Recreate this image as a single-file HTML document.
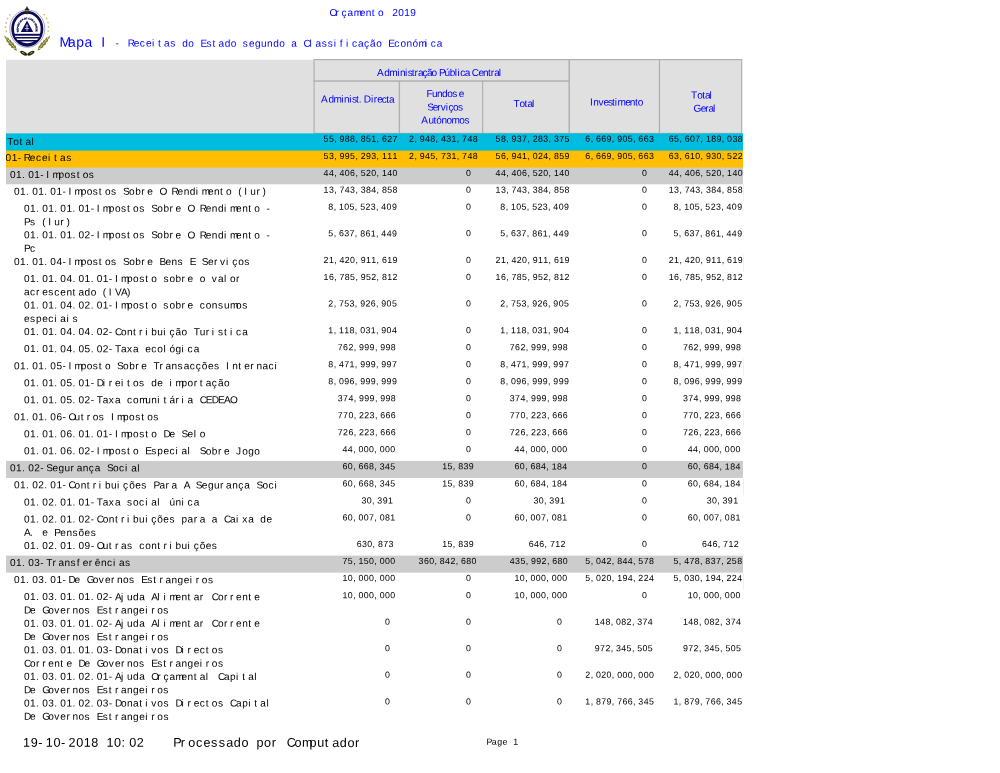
<!DOCTYPE html>
<html lang="pt">
<head>
<meta charset="utf-8">
<title>Orçamento 2019 - Mapa I - Receitas do Estado segundo a Classificação Económica</title>
<style>
html,body{margin:0;padding:0;background:#fff;}
body{width:1000px;height:773px;overflow:hidden;position:relative;font-family:"Liberation Sans",sans-serif;}
.page{position:absolute;left:0;top:0;width:1000px;height:773px;overflow:hidden;background:#fff;}
svg.sheet{position:absolute;left:0;top:0;display:block;}
svg.sheet text{font-family:"Liberation Sans",sans-serif;white-space:pre;text-rendering:geometricPrecision;}
</style>
</head>
<body>
<div class="page">
<svg class="sheet" width="1000" height="773" viewBox="0 0 1000 773">
<g class="logo">
<g class="coat-of-arms">
<defs>
<path id="arcTxt" d="M 18.9 32.2 A 8.6 10 0 1 1 35.3 32.2"/>
<clipPath id="discClip"><ellipse cx="27.3" cy="28.8" rx="14" ry="15.8"/></clipPath>
</defs>
<ellipse cx="27.3" cy="28.6" rx="17.5" ry="18.7" fill="none" stroke="#7f83b4" stroke-width="0.75"/>
<ellipse cx="27.3" cy="28.8" rx="14.7" ry="16.5" fill="#fff" stroke="#0c0b55" stroke-width="2.7"/>
<g clip-path="url(#discClip)">
<rect x="10" y="33.8" width="35" height="14" fill="#0c0b55"/>
<path d="M 12 36.4 H 43 M 12 39.3 H 43" stroke="#fff" stroke-width="1.4" fill="none"/>
<path d="M 20.6 41.6 H 34 Q 27.3 45 20.6 41.6 Z" fill="#fff"/>
</g>
<path d="M 27 20.6 L 33.2 31.9 L 20.8 31.9 Z" fill="#0c0b55"/>
<path d="M 27 24.2 V 31.2 M 24.8 28.6 H 29.2 M 25.8 26 H 28.2" stroke="#eeeef8" stroke-width="0.75" fill="none"/>
<text font-size="2.45" fill="#15145a" stroke="#15145a" stroke-width="0.22" letter-spacing="-0.06" style="font-family:'Liberation Sans',sans-serif;font-weight:bold"><textPath href="#arcTxt" startOffset="0.3">REPÚBLICA DE CABO VERDE</textPath></text>
<path d="M 27 5.9 L 28.1 8.3 L 29.5 9.4 L 28.5 10.4 L 28.1 13.2 L 27 14.7 L 25.9 13.2 L 25.5 10.4 L 24.5 9.4 L 25.9 8.3 Z" fill="#2b2a12"/>
<circle cx="27" cy="10.8" r="0.75" fill="#b8a540"/>
<g fill="#cdbc5a">
<circle cx="9.7" cy="14.8" r="0.85"/><circle cx="7.5" cy="18.6" r="0.85"/><circle cx="6.2" cy="22.9" r="0.85"/><circle cx="5.6" cy="27.2" r="0.85"/><circle cx="6.2" cy="31.4" r="0.85"/>
<circle cx="44.3" cy="14.6" r="0.85"/><circle cx="46.6" cy="18.4" r="0.85"/><circle cx="48.1" cy="22.6" r="0.85"/><circle cx="48.5" cy="26.8" r="0.85"/><circle cx="48.1" cy="31.1" r="0.85"/>
</g>
<g class="fronds">
<path d="M 4.6 35.4 L 7.4 38 L 7.8 37 L 9.8 40.4 L 10.4 39.4 L 12.2 43 L 13 42.2 L 14.6 45.8 L 15.4 45.2 L 17 50.8 L 14 49.8 L 14.2 48.6 L 11 47.4 L 11.2 46.2 L 8.4 44.4 L 8.8 43.2 L 6.2 41 L 6.6 40 L 4.6 37.6 Z" fill="#7d7628"/>
<path d="M 5.4 36.6 L 16 49.8" stroke="#f3ecb4" stroke-width="1" stroke-dasharray="1.3 0.8" fill="none"/>
<path d="M 49.8 35.4 L 47 38 L 46.6 37 L 44.6 40.4 L 44 39.4 L 42.2 43 L 41.4 42.2 L 39.8 45.8 L 39 45.2 L 37.6 50.4 L 40.4 49.6 L 40.2 48.4 L 43.4 47.2 L 43.2 46 L 46 44.2 L 45.6 43 L 48.2 40.8 L 47.8 39.8 L 49.8 37.4 Z" fill="#7d7628"/>
<path d="M 49 36.6 L 38.6 49.4" stroke="#f3ecb4" stroke-width="1" stroke-dasharray="1.3 0.8" fill="none"/>
</g>
<g class="links">
<ellipse cx="23.7" cy="53.2" rx="3.9" ry="1.7" transform="rotate(28 23.7 53.2)" fill="#2a280a"/>
<ellipse cx="30.9" cy="53.2" rx="3.9" ry="1.7" transform="rotate(-28 30.9 53.2)" fill="#2a280a"/>
<ellipse cx="23.3" cy="52.9" rx="1.5" ry="0.5" transform="rotate(28 23.3 52.9)" fill="#c9bf74"/>
<ellipse cx="31.3" cy="52.9" rx="1.5" ry="0.5" transform="rotate(-28 31.3 52.9)" fill="#c9bf74"/>
</g>
</g>

</g>
<g class="titles">
<text x="329.4 335.46 341.52 347.58 353.64 359.7 365.76 371.82 377.88 383.94 392.2 398.26 404.32 410.38" y="16" font-size="10.1" fill="#0000ff" transform="rotate(0.03 329.4 16)">Orçamento 2019</text>
<text x="59.6 67.93 76.26 84.59 92.92 101.25" y="46.7" font-size="13.89" fill="#0000ff" transform="rotate(0.03 59.6 46.7)">Mapa I</text>
<text x="115.6 121.66 127.72 133.78 139.84 145.9 151.96 158.02 164.08 170.14 176.2 182.26 188.32 194.38 200.44 206.5 212.56 218.62 224.68 230.74 236.8 242.86 248.92 254.98 261.04 267.1 273.16 279.22 285.28 291.34 297.4 303.46 309.52 315.58 321.64 327.7 333.76 339.82 345.88 351.94 358 364.06 370.12 376.18 382.24 388.3 394.36 400.42 406.48 412.54 418.6 424.66 430.72 436.78" y="46.6" font-size="10.1" fill="#0000ff" transform="rotate(0.03 115.6 46.6)">- Receitas do Estado segundo a Classificação Económica</text>
</g>
<g class="header-cells">
<rect x="6" y="59.8" width="308" height="74.4" fill="#e0e0e0"/>
<rect x="314.1" y="59.6" width="255.2" height="21.55" fill="#e0e0e0" stroke="#b0b0b0" stroke-width="1.2"/>
<rect x="314.1" y="81.15" width="85.35" height="52.25" fill="#e0e0e0" stroke="#b0b0b0" stroke-width="1.2"/>
<rect x="399.45" y="81.15" width="83.15" height="52.25" fill="#e0e0e0" stroke="#b0b0b0" stroke-width="1.2"/>
<rect x="482.6" y="81.15" width="86.7" height="52.25" fill="#e0e0e0" stroke="#b0b0b0" stroke-width="1.2"/>
<rect x="569.3" y="59.6" width="90.2" height="73.8" fill="#e0e0e0" stroke="#b0b0b0" stroke-width="1.2"/>
<rect x="659.5" y="59.6" width="82.2" height="73.8" fill="#e0e0e0" stroke="#b0b0b0" stroke-width="1.2"/>
</g>
<g class="colheads">
<text x="377 384.29 389.34 397.2 400.01 405.06 407.86 411.79 414.6 417.96 422.45 426.93 431.41 436.46 438.99 444.6 449.65 454.7 457.51 460.32 464.8 469.28 471.81 478.54 483.03 488.08 490.88 494.24 498.73" y="76" font-size="10.1" fill="#0000ff" transform="rotate(0.03 377 76)">Administração Pública Central</text>
<text x="321.1 328.39 333.44 341.3 344.11 349.16 351.96 355.89 358.7 361.22 363.75 371.04 373.85 377.21 381.7 386.18 388.98" y="102.6" font-size="10.1" fill="#0000ff" transform="rotate(0.03 321.1 102.6)">Administ. Directa</text>
<text x="426.4 432.02 437.07 442.12 447.17 452.22 456.15 458.67" y="97" font-size="10.1" fill="#0000ff" transform="rotate(0.03 426.4 97)">Fundos e</text>
<text x="427.2 432.82 437.3 440.66 445.71 448.52 453 458.05" y="110.5" font-size="10.1" fill="#0000ff" transform="rotate(0.03 427.2 110.5)">Serviços</text>
<text x="421.2 428.49 433.54 436.35 441.4 446.45 451.5 459.36 464.41" y="123.5" font-size="10.1" fill="#0000ff" transform="rotate(0.03 421.2 123.5)">Autónomos</text>
<text x="513.4 519.57 524.62 527.43 531.91" y="107" font-size="10.1" fill="#0000ff" transform="rotate(0.03 513.4 107)">Total</text>
<text x="590 593.36 598.41 603.46 607.95 611.88 614.68 617.49 625.35 629.83 634.88 637.68" y="105.5" font-size="10.1" fill="#0000ff" transform="rotate(0.03 590 105.5)">Investimento</text>
<text x="691 697.17 702.22 705.03 709.51" y="98.5" font-size="10.1" fill="#0000ff" transform="rotate(0.03 691 98.5)">Total</text>
<text x="693.4 700.69 705.18 708.54 713.02" y="111.8" font-size="10.1" fill="#0000ff" transform="rotate(0.03 693.4 111.8)">Geral</text>
</g>
<g class="bands">
<rect x="6" y="133.4" width="737" height="18" fill="#00bddf"/>
<rect x="6" y="150.6" width="737" height="17.75" fill="#ffbf00"/>
<rect x="6" y="167.55" width="737" height="16.75" fill="#cccccc"/>
<rect x="743.3" y="184.3" width="0.6" height="17.03" fill="#e6e6e6"/>
<rect x="743.3" y="254.49" width="0.6" height="17.03" fill="#e6e6e6"/>
<rect x="743.3" y="358.74" width="0.6" height="17.03" fill="#e6e6e6"/>
<rect x="743.3" y="409.83" width="0.6" height="17.03" fill="#e6e6e6"/>
<rect x="6" y="460.92" width="737" height="17.03" fill="#cccccc"/>
<rect x="743.3" y="477.95" width="0.6" height="17.03" fill="#e6e6e6"/>
<rect x="6" y="555.62" width="737" height="17.03" fill="#cccccc"/>
<rect x="743.3" y="572.65" width="0.6" height="17.03" fill="#e6e6e6"/>
</g>
<g class="rows">
<text x="7.3 13.36 19.42 25.48 31.54" y="145" font-size="10.1" transform="rotate(0.03 7.3 145)">Total</text>
<text x="323.61 328.91 334.21 339.51 344.81 350.11 355.41 360.71 366.01 371.31 376.61 381.91 387.21 392.51" y="141.85" font-size="8.84" transform="rotate(0.03 323.61 141.85)">55,988,851,627</text>
<text x="409.14 414.44 419.74 425.04 430.34 435.64 440.94 446.24 451.54 456.84 462.14 467.44 472.74" y="141.85" font-size="8.84" transform="rotate(0.03 409.14 141.85)">2,948,431,748</text>
<text x="495.61 500.91 506.21 511.51 516.81 522.11 527.41 532.71 538.01 543.31 548.61 553.91 559.21 564.51" y="141.85" font-size="8.84" transform="rotate(0.03 495.61 141.85)">58,937,283,375</text>
<text x="585.34 590.64 595.94 601.24 606.54 611.84 617.14 622.44 627.74 633.04 638.34 643.64 648.94" y="141.85" font-size="8.84" transform="rotate(0.03 585.34 141.85)">6,669,905,663</text>
<text x="668.81 674.11 679.41 684.71 690.01 695.31 700.61 705.91 711.21 716.51 721.81 727.11 732.41 737.71" y="141.85" font-size="8.84" transform="rotate(0.03 668.81 141.85)">65,607,189,038</text>
<text x="5.6 11.66 17.72 23.78 29.84 35.9 41.96 48.02 54.08 60.14 66.2" y="161" font-size="10.1" transform="rotate(0.03 5.6 161)">01-Receitas</text>
<text x="323.61 328.91 334.21 339.51 344.81 350.11 355.41 360.71 366.01 371.31 376.61 381.91 387.21 392.51" y="159.05" font-size="8.84" transform="rotate(0.03 323.61 159.05)">53,995,293,111</text>
<text x="409.14 414.44 419.74 425.04 430.34 435.64 440.94 446.24 451.54 456.84 462.14 467.44 472.74" y="159.05" font-size="8.84" transform="rotate(0.03 409.14 159.05)">2,945,731,748</text>
<text x="495.61 500.91 506.21 511.51 516.81 522.11 527.41 532.71 538.01 543.31 548.61 553.91 559.21 564.51" y="159.05" font-size="8.84" transform="rotate(0.03 495.61 159.05)">56,941,024,859</text>
<text x="585.34 590.64 595.94 601.24 606.54 611.84 617.14 622.44 627.74 633.04 638.34 643.64 648.94" y="159.05" font-size="8.84" transform="rotate(0.03 585.34 159.05)">6,669,905,663</text>
<text x="668.81 674.11 679.41 684.71 690.01 695.31 700.61 705.91 711.21 716.51 721.81 727.11 732.41 737.71" y="159.05" font-size="8.84" transform="rotate(0.03 668.81 159.05)">63,610,930,522</text>
<text x="10 16.06 22.12 28.18 34.24 40.3 46.36 52.42 58.48 64.54 70.6 76.66 82.72 88.78" y="177.95" font-size="10.1" transform="rotate(0.03 10 177.95)">01.01-Impostos</text>
<text x="323.61 328.91 334.21 339.51 344.81 350.11 355.41 360.71 366.01 371.31 376.61 381.91 387.21 392.51" y="176" font-size="8.84" transform="rotate(0.03 323.61 176)">44,406,520,140</text>
<text x="465.9" y="176" font-size="8.84" transform="rotate(0.03 465.9 176)">0</text>
<text x="495.61 500.91 506.21 511.51 516.81 522.11 527.41 532.71 538.01 543.31 548.61 553.91 559.21 564.51" y="176" font-size="8.84" transform="rotate(0.03 495.61 176)">44,406,520,140</text>
<text x="642.1" y="176" font-size="8.84" transform="rotate(0.03 642.1 176)">0</text>
<text x="668.81 674.11 679.41 684.71 690.01 695.31 700.61 705.91 711.21 716.51 721.81 727.11 732.41 737.71" y="176" font-size="8.84" transform="rotate(0.03 668.81 176)">44,406,520,140</text>
<text x="14 20.06 26.12 32.18 38.24 44.3 50.36 56.42 62.48 68.54 74.6 80.66 86.72 92.78 98.84 104.9 110.96 117.02 123.08 129.14 135.2 141.26 147.32 153.38 159.44 165.5 171.56 177.62 183.68 189.74 195.8 201.86 207.92 213.98 220.04 226.1 232.16 238.22 244.28 250.34 256.4 262.46" y="194.7" font-size="10.1" transform="rotate(0.03 14 194.7)">01.01.01-Impostos Sobre O Rendimento (Iur)</text>
<text x="323.61 328.91 334.21 339.51 344.81 350.11 355.41 360.71 366.01 371.31 376.61 381.91 387.21 392.51" y="192.75" font-size="8.84" transform="rotate(0.03 323.61 192.75)">13,743,384,858</text>
<text x="465.9" y="192.75" font-size="8.84" transform="rotate(0.03 465.9 192.75)">0</text>
<text x="495.61 500.91 506.21 511.51 516.81 522.11 527.41 532.71 538.01 543.31 548.61 553.91 559.21 564.51" y="192.75" font-size="8.84" transform="rotate(0.03 495.61 192.75)">13,743,384,858</text>
<text x="642.1" y="192.75" font-size="8.84" transform="rotate(0.03 642.1 192.75)">0</text>
<text x="668.81 674.11 679.41 684.71 690.01 695.31 700.61 705.91 711.21 716.51 721.81 727.11 732.41 737.71" y="192.75" font-size="8.84" transform="rotate(0.03 668.81 192.75)">13,743,384,858</text>
<text x="24 30.06 36.12 42.18 48.24 54.3 60.36 66.42 72.48 78.54 84.6 90.66 96.72 102.78 108.84 114.9 120.96 127.02 133.08 139.14 145.2 151.26 157.32 163.38 169.44 175.5 181.56 187.62 193.68 199.74 205.8 211.86 217.92 223.98 230.04 236.1 242.16 248.22 254.28 260.34 266.4" y="211.73" font-size="10.1" transform="rotate(0.03 24 211.73)">01.01.01.01-Impostos Sobre O Rendimento -</text>
<text x="24 30.06 36.12 42.18 48.24 54.3 60.36 66.42" y="225.18" font-size="10.1" transform="rotate(0.03 24 225.18)">Ps (Iur)</text>
<text x="328.34 333.64 338.94 344.24 349.54 354.84 360.14 365.44 370.74 376.04 381.34 386.64 391.94" y="209.78" font-size="8.84" transform="rotate(0.03 328.34 209.78)">8,105,523,409</text>
<text x="465.9" y="209.78" font-size="8.84" transform="rotate(0.03 465.9 209.78)">0</text>
<text x="500.34 505.64 510.94 516.24 521.54 526.84 532.14 537.44 542.74 548.04 553.34 558.64 563.94" y="209.78" font-size="8.84" transform="rotate(0.03 500.34 209.78)">8,105,523,409</text>
<text x="642.1" y="209.78" font-size="8.84" transform="rotate(0.03 642.1 209.78)">0</text>
<text x="673.54 678.84 684.14 689.44 694.74 700.04 705.34 710.64 715.94 721.24 726.54 731.84 737.14" y="209.78" font-size="8.84" transform="rotate(0.03 673.54 209.78)">8,105,523,409</text>
<text x="24 30.06 36.12 42.18 48.24 54.3 60.36 66.42 72.48 78.54 84.6 90.66 96.72 102.78 108.84 114.9 120.96 127.02 133.08 139.14 145.2 151.26 157.32 163.38 169.44 175.5 181.56 187.62 193.68 199.74 205.8 211.86 217.92 223.98 230.04 236.1 242.16 248.22 254.28 260.34 266.4" y="238.31" font-size="10.1" transform="rotate(0.03 24 238.31)">01.01.01.02-Impostos Sobre O Rendimento -</text>
<text x="24 30.06" y="251.76" font-size="10.1" transform="rotate(0.03 24 251.76)">Pc</text>
<text x="328.34 333.64 338.94 344.24 349.54 354.84 360.14 365.44 370.74 376.04 381.34 386.64 391.94" y="236.36" font-size="8.84" transform="rotate(0.03 328.34 236.36)">5,637,861,449</text>
<text x="465.9" y="236.36" font-size="8.84" transform="rotate(0.03 465.9 236.36)">0</text>
<text x="500.34 505.64 510.94 516.24 521.54 526.84 532.14 537.44 542.74 548.04 553.34 558.64 563.94" y="236.36" font-size="8.84" transform="rotate(0.03 500.34 236.36)">5,637,861,449</text>
<text x="642.1" y="236.36" font-size="8.84" transform="rotate(0.03 642.1 236.36)">0</text>
<text x="673.54 678.84 684.14 689.44 694.74 700.04 705.34 710.64 715.94 721.24 726.54 731.84 737.14" y="236.36" font-size="8.84" transform="rotate(0.03 673.54 236.36)">5,637,861,449</text>
<text x="14 20.06 26.12 32.18 38.24 44.3 50.36 56.42 62.48 68.54 74.6 80.66 86.72 92.78 98.84 104.9 110.96 117.02 123.08 129.14 135.2 141.26 147.32 153.38 159.44 165.5 171.56 177.62 183.68 189.74 195.8 201.86 207.92 213.98 220.04 226.1 232.16 238.22 244.28" y="264.89" font-size="10.1" transform="rotate(0.03 14 264.89)">01.01.04-Impostos Sobre Bens E Serviços</text>
<text x="323.61 328.91 334.21 339.51 344.81 350.11 355.41 360.71 366.01 371.31 376.61 381.91 387.21 392.51" y="262.94" font-size="8.84" transform="rotate(0.03 323.61 262.94)">21,420,911,619</text>
<text x="465.9" y="262.94" font-size="8.84" transform="rotate(0.03 465.9 262.94)">0</text>
<text x="495.61 500.91 506.21 511.51 516.81 522.11 527.41 532.71 538.01 543.31 548.61 553.91 559.21 564.51" y="262.94" font-size="8.84" transform="rotate(0.03 495.61 262.94)">21,420,911,619</text>
<text x="642.1" y="262.94" font-size="8.84" transform="rotate(0.03 642.1 262.94)">0</text>
<text x="668.81 674.11 679.41 684.71 690.01 695.31 700.61 705.91 711.21 716.51 721.81 727.11 732.41 737.71" y="262.94" font-size="8.84" transform="rotate(0.03 668.81 262.94)">21,420,911,619</text>
<text x="24 30.06 36.12 42.18 48.24 54.3 60.36 66.42 72.48 78.54 84.6 90.66 96.72 102.78 108.84 114.9 120.96 127.02 133.08 139.14 145.2 151.26 157.32 163.38 169.44 175.5 181.56 187.62 193.68 199.74 205.8 211.86 217.92 223.98 230.04 236.1" y="281.92" font-size="10.1" transform="rotate(0.03 24 281.92)">01.01.04.01.01-Imposto sobre o valor</text>
<text x="24 30.06 36.12 42.18 48.24 54.3 60.36 66.42 72.48 78.54 84.6 90.66 96.72 102.78 108.84 114.9 120.96 127.02" y="295.37" font-size="10.1" transform="rotate(0.03 24 295.37)">acrescentado (IVA)</text>
<text x="323.61 328.91 334.21 339.51 344.81 350.11 355.41 360.71 366.01 371.31 376.61 381.91 387.21 392.51" y="279.97" font-size="8.84" transform="rotate(0.03 323.61 279.97)">16,785,952,812</text>
<text x="465.9" y="279.97" font-size="8.84" transform="rotate(0.03 465.9 279.97)">0</text>
<text x="495.61 500.91 506.21 511.51 516.81 522.11 527.41 532.71 538.01 543.31 548.61 553.91 559.21 564.51" y="279.97" font-size="8.84" transform="rotate(0.03 495.61 279.97)">16,785,952,812</text>
<text x="642.1" y="279.97" font-size="8.84" transform="rotate(0.03 642.1 279.97)">0</text>
<text x="668.81 674.11 679.41 684.71 690.01 695.31 700.61 705.91 711.21 716.51 721.81 727.11 732.41 737.71" y="279.97" font-size="8.84" transform="rotate(0.03 668.81 279.97)">16,785,952,812</text>
<text x="24 30.06 36.12 42.18 48.24 54.3 60.36 66.42 72.48 78.54 84.6 90.66 96.72 102.78 108.84 114.9 120.96 127.02 133.08 139.14 145.2 151.26 157.32 163.38 169.44 175.5 181.56 187.62 193.68 199.74 205.8 211.86 217.92 223.98 230.04 236.1 242.16" y="308.5" font-size="10.1" transform="rotate(0.03 24 308.5)">01.01.04.02.01-Imposto sobre consumos</text>
<text x="24 30.06 36.12 42.18 48.24 54.3 60.36 66.42 72.48" y="321.95" font-size="10.1" transform="rotate(0.03 24 321.95)">especiais</text>
<text x="328.34 333.64 338.94 344.24 349.54 354.84 360.14 365.44 370.74 376.04 381.34 386.64 391.94" y="306.55" font-size="8.84" transform="rotate(0.03 328.34 306.55)">2,753,926,905</text>
<text x="465.9" y="306.55" font-size="8.84" transform="rotate(0.03 465.9 306.55)">0</text>
<text x="500.34 505.64 510.94 516.24 521.54 526.84 532.14 537.44 542.74 548.04 553.34 558.64 563.94" y="306.55" font-size="8.84" transform="rotate(0.03 500.34 306.55)">2,753,926,905</text>
<text x="642.1" y="306.55" font-size="8.84" transform="rotate(0.03 642.1 306.55)">0</text>
<text x="673.54 678.84 684.14 689.44 694.74 700.04 705.34 710.64 715.94 721.24 726.54 731.84 737.14" y="306.55" font-size="8.84" transform="rotate(0.03 673.54 306.55)">2,753,926,905</text>
<text x="24 30.06 36.12 42.18 48.24 54.3 60.36 66.42 72.48 78.54 84.6 90.66 96.72 102.78 108.84 114.9 120.96 127.02 133.08 139.14 145.2 151.26 157.32 163.38 169.44 175.5 181.56 187.62 193.68 199.74 205.8 211.86 217.92 223.98 230.04 236.1 242.16" y="335.08" font-size="10.1" transform="rotate(0.03 24 335.08)">01.01.04.04.02-Contribuição Turistica</text>
<text x="328.34 333.64 338.94 344.24 349.54 354.84 360.14 365.44 370.74 376.04 381.34 386.64 391.94" y="333.13" font-size="8.84" transform="rotate(0.03 328.34 333.13)">1,118,031,904</text>
<text x="465.9" y="333.13" font-size="8.84" transform="rotate(0.03 465.9 333.13)">0</text>
<text x="500.34 505.64 510.94 516.24 521.54 526.84 532.14 537.44 542.74 548.04 553.34 558.64 563.94" y="333.13" font-size="8.84" transform="rotate(0.03 500.34 333.13)">1,118,031,904</text>
<text x="642.1" y="333.13" font-size="8.84" transform="rotate(0.03 642.1 333.13)">0</text>
<text x="673.54 678.84 684.14 689.44 694.74 700.04 705.34 710.64 715.94 721.24 726.54 731.84 737.14" y="333.13" font-size="8.84" transform="rotate(0.03 673.54 333.13)">1,118,031,904</text>
<text x="24 30.06 36.12 42.18 48.24 54.3 60.36 66.42 72.48 78.54 84.6 90.66 96.72 102.78 108.84 114.9 120.96 127.02 133.08 139.14 145.2 151.26 157.32 163.38 169.44 175.5 181.56 187.62 193.68" y="352.11" font-size="10.1" transform="rotate(0.03 24 352.11)">01.01.04.05.02-Taxa ecológica</text>
<text x="337.8 343.1 348.4 353.7 359 364.3 369.6 374.9 380.2 385.5 390.8" y="350.16" font-size="8.84" transform="rotate(0.03 337.8 350.16)">762,999,998</text>
<text x="465.9" y="350.16" font-size="8.84" transform="rotate(0.03 465.9 350.16)">0</text>
<text x="509.8 515.1 520.4 525.7 531 536.3 541.6 546.9 552.2 557.5 562.8" y="350.16" font-size="8.84" transform="rotate(0.03 509.8 350.16)">762,999,998</text>
<text x="642.1" y="350.16" font-size="8.84" transform="rotate(0.03 642.1 350.16)">0</text>
<text x="683 688.3 693.6 698.9 704.2 709.5 714.8 720.1 725.4 730.7 736" y="350.16" font-size="8.84" transform="rotate(0.03 683 350.16)">762,999,998</text>
<text x="14 20.06 26.12 32.18 38.24 44.3 50.36 56.42 62.48 68.54 74.6 80.66 86.72 92.78 98.84 104.9 110.96 117.02 123.08 129.14 135.2 141.26 147.32 153.38 159.44 165.5 171.56 177.62 183.68 189.74 195.8 201.86 207.92 213.98 220.04 226.1 232.16 238.22 244.28 250.34 256.4 262.46 268.52 274.58" y="369.14" font-size="10.1" transform="rotate(0.03 14 369.14)">01.01.05-Imposto Sobre Transacções Internaci</text>
<text x="328.34 333.64 338.94 344.24 349.54 354.84 360.14 365.44 370.74 376.04 381.34 386.64 391.94" y="367.19" font-size="8.84" transform="rotate(0.03 328.34 367.19)">8,471,999,997</text>
<text x="465.9" y="367.19" font-size="8.84" transform="rotate(0.03 465.9 367.19)">0</text>
<text x="500.34 505.64 510.94 516.24 521.54 526.84 532.14 537.44 542.74 548.04 553.34 558.64 563.94" y="367.19" font-size="8.84" transform="rotate(0.03 500.34 367.19)">8,471,999,997</text>
<text x="642.1" y="367.19" font-size="8.84" transform="rotate(0.03 642.1 367.19)">0</text>
<text x="673.54 678.84 684.14 689.44 694.74 700.04 705.34 710.64 715.94 721.24 726.54 731.84 737.14" y="367.19" font-size="8.84" transform="rotate(0.03 673.54 367.19)">8,471,999,997</text>
<text x="24 30.06 36.12 42.18 48.24 54.3 60.36 66.42 72.48 78.54 84.6 90.66 96.72 102.78 108.84 114.9 120.96 127.02 133.08 139.14 145.2 151.26 157.32 163.38 169.44 175.5 181.56 187.62 193.68 199.74 205.8 211.86 217.92 223.98" y="386.17" font-size="10.1" transform="rotate(0.03 24 386.17)">01.01.05.01-Direitos de importação</text>
<text x="328.34 333.64 338.94 344.24 349.54 354.84 360.14 365.44 370.74 376.04 381.34 386.64 391.94" y="384.22" font-size="8.84" transform="rotate(0.03 328.34 384.22)">8,096,999,999</text>
<text x="465.9" y="384.22" font-size="8.84" transform="rotate(0.03 465.9 384.22)">0</text>
<text x="500.34 505.64 510.94 516.24 521.54 526.84 532.14 537.44 542.74 548.04 553.34 558.64 563.94" y="384.22" font-size="8.84" transform="rotate(0.03 500.34 384.22)">8,096,999,999</text>
<text x="642.1" y="384.22" font-size="8.84" transform="rotate(0.03 642.1 384.22)">0</text>
<text x="673.54 678.84 684.14 689.44 694.74 700.04 705.34 710.64 715.94 721.24 726.54 731.84 737.14" y="384.22" font-size="8.84" transform="rotate(0.03 673.54 384.22)">8,096,999,999</text>
<text x="24 30.06 36.12 42.18 48.24 54.3 60.36 66.42 72.48 78.54 84.6 90.66 96.72 102.78 108.84 114.9 120.96 127.02 133.08 139.14 145.2 151.26 157.32 163.38 169.44 175.5 181.56 187.62 193.68 199.74 205.8 211.86 217.92 223.98 230.04" y="403.2" font-size="10.1" transform="rotate(0.03 24 403.2)">01.01.05.02-Taxa comunitária CEDEAO</text>
<text x="337.8 343.1 348.4 353.7 359 364.3 369.6 374.9 380.2 385.5 390.8" y="401.25" font-size="8.84" transform="rotate(0.03 337.8 401.25)">374,999,998</text>
<text x="465.9" y="401.25" font-size="8.84" transform="rotate(0.03 465.9 401.25)">0</text>
<text x="509.8 515.1 520.4 525.7 531 536.3 541.6 546.9 552.2 557.5 562.8" y="401.25" font-size="8.84" transform="rotate(0.03 509.8 401.25)">374,999,998</text>
<text x="642.1" y="401.25" font-size="8.84" transform="rotate(0.03 642.1 401.25)">0</text>
<text x="683 688.3 693.6 698.9 704.2 709.5 714.8 720.1 725.4 730.7 736" y="401.25" font-size="8.84" transform="rotate(0.03 683 401.25)">374,999,998</text>
<text x="14 20.06 26.12 32.18 38.24 44.3 50.36 56.42 62.48 68.54 74.6 80.66 86.72 92.78 98.84 104.9 110.96 117.02 123.08 129.14 135.2 141.26 147.32 153.38" y="420.23" font-size="10.1" transform="rotate(0.03 14 420.23)">01.01.06-Outros Impostos</text>
<text x="337.8 343.1 348.4 353.7 359 364.3 369.6 374.9 380.2 385.5 390.8" y="418.28" font-size="8.84" transform="rotate(0.03 337.8 418.28)">770,223,666</text>
<text x="465.9" y="418.28" font-size="8.84" transform="rotate(0.03 465.9 418.28)">0</text>
<text x="509.8 515.1 520.4 525.7 531 536.3 541.6 546.9 552.2 557.5 562.8" y="418.28" font-size="8.84" transform="rotate(0.03 509.8 418.28)">770,223,666</text>
<text x="642.1" y="418.28" font-size="8.84" transform="rotate(0.03 642.1 418.28)">0</text>
<text x="683 688.3 693.6 698.9 704.2 709.5 714.8 720.1 725.4 730.7 736" y="418.28" font-size="8.84" transform="rotate(0.03 683 418.28)">770,223,666</text>
<text x="24 30.06 36.12 42.18 48.24 54.3 60.36 66.42 72.48 78.54 84.6 90.66 96.72 102.78 108.84 114.9 120.96 127.02 133.08 139.14 145.2 151.26 157.32 163.38 169.44 175.5 181.56 187.62 193.68 199.74" y="437.26" font-size="10.1" transform="rotate(0.03 24 437.26)">01.01.06.01.01-Imposto De Selo</text>
<text x="337.8 343.1 348.4 353.7 359 364.3 369.6 374.9 380.2 385.5 390.8" y="435.31" font-size="8.84" transform="rotate(0.03 337.8 435.31)">726,223,666</text>
<text x="465.9" y="435.31" font-size="8.84" transform="rotate(0.03 465.9 435.31)">0</text>
<text x="509.8 515.1 520.4 525.7 531 536.3 541.6 546.9 552.2 557.5 562.8" y="435.31" font-size="8.84" transform="rotate(0.03 509.8 435.31)">726,223,666</text>
<text x="642.1" y="435.31" font-size="8.84" transform="rotate(0.03 642.1 435.31)">0</text>
<text x="683 688.3 693.6 698.9 704.2 709.5 714.8 720.1 725.4 730.7 736" y="435.31" font-size="8.84" transform="rotate(0.03 683 435.31)">726,223,666</text>
<text x="24 30.06 36.12 42.18 48.24 54.3 60.36 66.42 72.48 78.54 84.6 90.66 96.72 102.78 108.84 114.9 120.96 127.02 133.08 139.14 145.2 151.26 157.32 163.38 169.44 175.5 181.56 187.62 193.68 199.74 205.8 211.86 217.92 223.98 230.04 236.1 242.16 248.22 254.28" y="454.29" font-size="10.1" transform="rotate(0.03 24 454.29)">01.01.06.02-Imposto Especial Sobre Jogo</text>
<text x="342.53 347.83 353.13 358.43 363.73 369.03 374.33 379.63 384.93 390.23" y="452.34" font-size="8.84" transform="rotate(0.03 342.53 452.34)">44,000,000</text>
<text x="465.9" y="452.34" font-size="8.84" transform="rotate(0.03 465.9 452.34)">0</text>
<text x="514.53 519.83 525.13 530.43 535.73 541.03 546.33 551.63 556.93 562.23" y="452.34" font-size="8.84" transform="rotate(0.03 514.53 452.34)">44,000,000</text>
<text x="642.1" y="452.34" font-size="8.84" transform="rotate(0.03 642.1 452.34)">0</text>
<text x="687.73 693.03 698.33 703.63 708.93 714.23 719.53 724.83 730.13 735.43" y="452.34" font-size="8.84" transform="rotate(0.03 687.73 452.34)">44,000,000</text>
<text x="10 16.06 22.12 28.18 34.24 40.3 46.36 52.42 58.48 64.54 70.6 76.66 82.72 88.78 94.84 100.9 106.96 113.02 119.08 125.14 131.2 137.26" y="471.32" font-size="10.1" transform="rotate(0.03 10 471.32)">01.02-Segurança Social</text>
<text x="342.53 347.83 353.13 358.43 363.73 369.03 374.33 379.63 384.93 390.23" y="469.37" font-size="8.84" transform="rotate(0.03 342.53 469.37)">60,668,345</text>
<text x="442.25 447.55 452.85 458.15 463.45 468.75" y="469.37" font-size="8.84" transform="rotate(0.03 442.25 469.37)">15,839</text>
<text x="514.53 519.83 525.13 530.43 535.73 541.03 546.33 551.63 556.93 562.23" y="469.37" font-size="8.84" transform="rotate(0.03 514.53 469.37)">60,684,184</text>
<text x="642.1" y="469.37" font-size="8.84" transform="rotate(0.03 642.1 469.37)">0</text>
<text x="687.73 693.03 698.33 703.63 708.93 714.23 719.53 724.83 730.13 735.43" y="469.37" font-size="8.84" transform="rotate(0.03 687.73 469.37)">60,684,184</text>
<text x="14 20.06 26.12 32.18 38.24 44.3 50.36 56.42 62.48 68.54 74.6 80.66 86.72 92.78 98.84 104.9 110.96 117.02 123.08 129.14 135.2 141.26 147.32 153.38 159.44 165.5 171.56 177.62 183.68 189.74 195.8 201.86 207.92 213.98 220.04 226.1 232.16 238.22 244.28 250.34 256.4 262.46 268.52 274.58" y="488.35" font-size="10.1" transform="rotate(0.03 14 488.35)">01.02.01-Contribuições Para A Segurança Soci</text>
<text x="342.53 347.83 353.13 358.43 363.73 369.03 374.33 379.63 384.93 390.23" y="486.4" font-size="8.84" transform="rotate(0.03 342.53 486.4)">60,668,345</text>
<text x="442.25 447.55 452.85 458.15 463.45 468.75" y="486.4" font-size="8.84" transform="rotate(0.03 442.25 486.4)">15,839</text>
<text x="514.53 519.83 525.13 530.43 535.73 541.03 546.33 551.63 556.93 562.23" y="486.4" font-size="8.84" transform="rotate(0.03 514.53 486.4)">60,684,184</text>
<text x="642.1" y="486.4" font-size="8.84" transform="rotate(0.03 642.1 486.4)">0</text>
<text x="687.73 693.03 698.33 703.63 708.93 714.23 719.53 724.83 730.13 735.43" y="486.4" font-size="8.84" transform="rotate(0.03 687.73 486.4)">60,684,184</text>
<text x="24 30.06 36.12 42.18 48.24 54.3 60.36 66.42 72.48 78.54 84.6 90.66 96.72 102.78 108.84 114.9 120.96 127.02 133.08 139.14 145.2 151.26 157.32 163.38 169.44 175.5 181.56 187.62 193.68" y="505.38" font-size="10.1" transform="rotate(0.03 24 505.38)">01.02.01.01-Taxa social única</text>
<text x="361.45 366.75 372.05 377.35 382.65 387.95" y="503.43" font-size="8.84" transform="rotate(0.03 361.45 503.43)">30,391</text>
<text x="465.9" y="503.43" font-size="8.84" transform="rotate(0.03 465.9 503.43)">0</text>
<text x="533.45 538.75 544.05 549.35 554.65 559.95" y="503.43" font-size="8.84" transform="rotate(0.03 533.45 503.43)">30,391</text>
<text x="642.1" y="503.43" font-size="8.84" transform="rotate(0.03 642.1 503.43)">0</text>
<text x="706.65 711.95 717.25 722.55 727.85 733.15" y="503.43" font-size="8.84" transform="rotate(0.03 706.65 503.43)">30,391</text>
<text x="24 30.06 36.12 42.18 48.24 54.3 60.36 66.42 72.48 78.54 84.6 90.66 96.72 102.78 108.84 114.9 120.96 127.02 133.08 139.14 145.2 151.26 157.32 163.38 169.44 175.5 181.56 187.62 193.68 199.74 205.8 211.86 217.92 223.98 230.04 236.1 242.16 248.22 254.28 260.34 266.4" y="522.41" font-size="10.1" transform="rotate(0.03 24 522.41)">01.02.01.02-Contribuições para a Caixa de</text>
<text x="24 30.06 36.12 42.18 48.24 54.3 60.36 66.42 72.48 78.54 84.6 90.66" y="535.86" font-size="10.1" transform="rotate(0.03 24 535.86)">A. e Pensões</text>
<text x="342.53 347.83 353.13 358.43 363.73 369.03 374.33 379.63 384.93 390.23" y="520.46" font-size="8.84" transform="rotate(0.03 342.53 520.46)">60,007,081</text>
<text x="465.9" y="520.46" font-size="8.84" transform="rotate(0.03 465.9 520.46)">0</text>
<text x="514.53 519.83 525.13 530.43 535.73 541.03 546.33 551.63 556.93 562.23" y="520.46" font-size="8.84" transform="rotate(0.03 514.53 520.46)">60,007,081</text>
<text x="642.1" y="520.46" font-size="8.84" transform="rotate(0.03 642.1 520.46)">0</text>
<text x="687.73 693.03 698.33 703.63 708.93 714.23 719.53 724.83 730.13 735.43" y="520.46" font-size="8.84" transform="rotate(0.03 687.73 520.46)">60,007,081</text>
<text x="24 30.06 36.12 42.18 48.24 54.3 60.36 66.42 72.48 78.54 84.6 90.66 96.72 102.78 108.84 114.9 120.96 127.02 133.08 139.14 145.2 151.26 157.32 163.38 169.44 175.5 181.56 187.62 193.68 199.74 205.8 211.86" y="548.99" font-size="10.1" transform="rotate(0.03 24 548.99)">01.02.01.09-Outras contribuições</text>
<text x="356.72 362.02 367.32 372.62 377.92 383.22 388.52" y="547.04" font-size="8.84" transform="rotate(0.03 356.72 547.04)">630,873</text>
<text x="442.25 447.55 452.85 458.15 463.45 468.75" y="547.04" font-size="8.84" transform="rotate(0.03 442.25 547.04)">15,839</text>
<text x="528.72 534.02 539.32 544.62 549.92 555.22 560.52" y="547.04" font-size="8.84" transform="rotate(0.03 528.72 547.04)">646,712</text>
<text x="642.1" y="547.04" font-size="8.84" transform="rotate(0.03 642.1 547.04)">0</text>
<text x="701.92 707.22 712.52 717.82 723.12 728.42 733.72" y="547.04" font-size="8.84" transform="rotate(0.03 701.92 547.04)">646,712</text>
<text x="10 16.06 22.12 28.18 34.24 40.3 46.36 52.42 58.48 64.54 70.6 76.66 82.72 88.78 94.84 100.9 106.96 113.02 119.08 125.14" y="566.02" font-size="10.1" transform="rotate(0.03 10 566.02)">01.03-Transferências</text>
<text x="342.53 347.83 353.13 358.43 363.73 369.03 374.33 379.63 384.93 390.23" y="564.07" font-size="8.84" transform="rotate(0.03 342.53 564.07)">75,150,000</text>
<text x="418.6 423.9 429.2 434.5 439.8 445.1 450.4 455.7 461 466.3 471.6" y="564.07" font-size="8.84" transform="rotate(0.03 418.6 564.07)">360,842,680</text>
<text x="509.8 515.1 520.4 525.7 531 536.3 541.6 546.9 552.2 557.5 562.8" y="564.07" font-size="8.84" transform="rotate(0.03 509.8 564.07)">435,992,680</text>
<text x="585.34 590.64 595.94 601.24 606.54 611.84 617.14 622.44 627.74 633.04 638.34 643.64 648.94" y="564.07" font-size="8.84" transform="rotate(0.03 585.34 564.07)">5,042,844,578</text>
<text x="673.54 678.84 684.14 689.44 694.74 700.04 705.34 710.64 715.94 721.24 726.54 731.84 737.14" y="564.07" font-size="8.84" transform="rotate(0.03 673.54 564.07)">5,478,837,258</text>
<text x="14 20.06 26.12 32.18 38.24 44.3 50.36 56.42 62.48 68.54 74.6 80.66 86.72 92.78 98.84 104.9 110.96 117.02 123.08 129.14 135.2 141.26 147.32 153.38 159.44 165.5 171.56 177.62 183.68 189.74 195.8 201.86 207.92" y="583.05" font-size="10.1" transform="rotate(0.03 14 583.05)">01.03.01-De Governos Estrangeiros</text>
<text x="342.53 347.83 353.13 358.43 363.73 369.03 374.33 379.63 384.93 390.23" y="581.1" font-size="8.84" transform="rotate(0.03 342.53 581.1)">10,000,000</text>
<text x="465.9" y="581.1" font-size="8.84" transform="rotate(0.03 465.9 581.1)">0</text>
<text x="514.53 519.83 525.13 530.43 535.73 541.03 546.33 551.63 556.93 562.23" y="581.1" font-size="8.84" transform="rotate(0.03 514.53 581.1)">10,000,000</text>
<text x="585.34 590.64 595.94 601.24 606.54 611.84 617.14 622.44 627.74 633.04 638.34 643.64 648.94" y="581.1" font-size="8.84" transform="rotate(0.03 585.34 581.1)">5,020,194,224</text>
<text x="673.54 678.84 684.14 689.44 694.74 700.04 705.34 710.64 715.94 721.24 726.54 731.84 737.14" y="581.1" font-size="8.84" transform="rotate(0.03 673.54 581.1)">5,030,194,224</text>
<text x="24 30.06 36.12 42.18 48.24 54.3 60.36 66.42 72.48 78.54 84.6 90.66 96.72 102.78 108.84 114.9 120.96 127.02 133.08 139.14 145.2 151.26 157.32 163.38 169.44 175.5 181.56 187.62 193.68 199.74 205.8 211.86 217.92 223.98 230.04 236.1 242.16 248.22 254.28" y="600.08" font-size="10.1" transform="rotate(0.03 24 600.08)">01.03.01.01.02-Ajuda Alimentar Corrente</text>
<text x="24 30.06 36.12 42.18 48.24 54.3 60.36 66.42 72.48 78.54 84.6 90.66 96.72 102.78 108.84 114.9 120.96 127.02 133.08 139.14 145.2 151.26 157.32 163.38" y="613.53" font-size="10.1" transform="rotate(0.03 24 613.53)">De Governos Estrangeiros</text>
<text x="342.53 347.83 353.13 358.43 363.73 369.03 374.33 379.63 384.93 390.23" y="598.13" font-size="8.84" transform="rotate(0.03 342.53 598.13)">10,000,000</text>
<text x="465.9" y="598.13" font-size="8.84" transform="rotate(0.03 465.9 598.13)">0</text>
<text x="514.53 519.83 525.13 530.43 535.73 541.03 546.33 551.63 556.93 562.23" y="598.13" font-size="8.84" transform="rotate(0.03 514.53 598.13)">10,000,000</text>
<text x="642.1" y="598.13" font-size="8.84" transform="rotate(0.03 642.1 598.13)">0</text>
<text x="687.73 693.03 698.33 703.63 708.93 714.23 719.53 724.83 730.13 735.43" y="598.13" font-size="8.84" transform="rotate(0.03 687.73 598.13)">10,000,000</text>
<text x="24 30.06 36.12 42.18 48.24 54.3 60.36 66.42 72.48 78.54 84.6 90.66 96.72 102.78 108.84 114.9 120.96 127.02 133.08 139.14 145.2 151.26 157.32 163.38 169.44 175.5 181.56 187.62 193.68 199.74 205.8 211.86 217.92 223.98 230.04 236.1 242.16 248.22 254.28" y="626.66" font-size="10.1" transform="rotate(0.03 24 626.66)">01.03.01.01.02-Ajuda Alimentar Corrente</text>
<text x="24 30.06 36.12 42.18 48.24 54.3 60.36 66.42 72.48 78.54 84.6 90.66 96.72 102.78 108.84 114.9 120.96 127.02 133.08 139.14 145.2 151.26 157.32 163.38" y="640.11" font-size="10.1" transform="rotate(0.03 24 640.11)">De Governos Estrangeiros</text>
<text x="385.1" y="624.71" font-size="8.84" transform="rotate(0.03 385.1 624.71)">0</text>
<text x="465.9" y="624.71" font-size="8.84" transform="rotate(0.03 465.9 624.71)">0</text>
<text x="557.1" y="624.71" font-size="8.84" transform="rotate(0.03 557.1 624.71)">0</text>
<text x="594.8 600.1 605.4 610.7 616 621.3 626.6 631.9 637.2 642.5 647.8" y="624.71" font-size="8.84" transform="rotate(0.03 594.8 624.71)">148,082,374</text>
<text x="683 688.3 693.6 698.9 704.2 709.5 714.8 720.1 725.4 730.7 736" y="624.71" font-size="8.84" transform="rotate(0.03 683 624.71)">148,082,374</text>
<text x="24 30.06 36.12 42.18 48.24 54.3 60.36 66.42 72.48 78.54 84.6 90.66 96.72 102.78 108.84 114.9 120.96 127.02 133.08 139.14 145.2 151.26 157.32 163.38 169.44 175.5 181.56 187.62 193.68 199.74 205.8 211.86 217.92" y="653.24" font-size="10.1" transform="rotate(0.03 24 653.24)">01.03.01.01.03-Donativos Directos</text>
<text x="24 30.06 36.12 42.18 48.24 54.3 60.36 66.42 72.48 78.54 84.6 90.66 96.72 102.78 108.84 114.9 120.96 127.02 133.08 139.14 145.2 151.26 157.32 163.38 169.44 175.5 181.56 187.62 193.68 199.74 205.8 211.86 217.92" y="666.69" font-size="10.1" transform="rotate(0.03 24 666.69)">Corrente De Governos Estrangeiros</text>
<text x="385.1" y="651.29" font-size="8.84" transform="rotate(0.03 385.1 651.29)">0</text>
<text x="465.9" y="651.29" font-size="8.84" transform="rotate(0.03 465.9 651.29)">0</text>
<text x="557.1" y="651.29" font-size="8.84" transform="rotate(0.03 557.1 651.29)">0</text>
<text x="594.8 600.1 605.4 610.7 616 621.3 626.6 631.9 637.2 642.5 647.8" y="651.29" font-size="8.84" transform="rotate(0.03 594.8 651.29)">972,345,505</text>
<text x="683 688.3 693.6 698.9 704.2 709.5 714.8 720.1 725.4 730.7 736" y="651.29" font-size="8.84" transform="rotate(0.03 683 651.29)">972,345,505</text>
<text x="24 30.06 36.12 42.18 48.24 54.3 60.36 66.42 72.48 78.54 84.6 90.66 96.72 102.78 108.84 114.9 120.96 127.02 133.08 139.14 145.2 151.26 157.32 163.38 169.44 175.5 181.56 187.62 193.68 199.74 205.8 211.86 217.92 223.98 230.04 236.1 242.16 248.22 254.28" y="679.82" font-size="10.1" transform="rotate(0.03 24 679.82)">01.03.01.02.01-Ajuda Orçamental Capital</text>
<text x="24 30.06 36.12 42.18 48.24 54.3 60.36 66.42 72.48 78.54 84.6 90.66 96.72 102.78 108.84 114.9 120.96 127.02 133.08 139.14 145.2 151.26 157.32 163.38" y="693.27" font-size="10.1" transform="rotate(0.03 24 693.27)">De Governos Estrangeiros</text>
<text x="385.1" y="677.87" font-size="8.84" transform="rotate(0.03 385.1 677.87)">0</text>
<text x="465.9" y="677.87" font-size="8.84" transform="rotate(0.03 465.9 677.87)">0</text>
<text x="557.1" y="677.87" font-size="8.84" transform="rotate(0.03 557.1 677.87)">0</text>
<text x="585.34 590.64 595.94 601.24 606.54 611.84 617.14 622.44 627.74 633.04 638.34 643.64 648.94" y="677.87" font-size="8.84" transform="rotate(0.03 585.34 677.87)">2,020,000,000</text>
<text x="673.54 678.84 684.14 689.44 694.74 700.04 705.34 710.64 715.94 721.24 726.54 731.84 737.14" y="677.87" font-size="8.84" transform="rotate(0.03 673.54 677.87)">2,020,000,000</text>
<text x="24 30.06 36.12 42.18 48.24 54.3 60.36 66.42 72.48 78.54 84.6 90.66 96.72 102.78 108.84 114.9 120.96 127.02 133.08 139.14 145.2 151.26 157.32 163.38 169.44 175.5 181.56 187.62 193.68 199.74 205.8 211.86 217.92 223.98 230.04 236.1 242.16 248.22 254.28 260.34 266.4" y="706.4" font-size="10.1" transform="rotate(0.03 24 706.4)">01.03.01.02.03-Donativos Directos Capital</text>
<text x="24 30.06 36.12 42.18 48.24 54.3 60.36 66.42 72.48 78.54 84.6 90.66 96.72 102.78 108.84 114.9 120.96 127.02 133.08 139.14 145.2 151.26 157.32 163.38" y="719.85" font-size="10.1" transform="rotate(0.03 24 719.85)">De Governos Estrangeiros</text>
<text x="385.1" y="704.45" font-size="8.84" transform="rotate(0.03 385.1 704.45)">0</text>
<text x="465.9" y="704.45" font-size="8.84" transform="rotate(0.03 465.9 704.45)">0</text>
<text x="557.1" y="704.45" font-size="8.84" transform="rotate(0.03 557.1 704.45)">0</text>
<text x="585.34 590.64 595.94 601.24 606.54 611.84 617.14 622.44 627.74 633.04 638.34 643.64 648.94" y="704.45" font-size="8.84" transform="rotate(0.03 585.34 704.45)">1,879,766,345</text>
<text x="673.54 678.84 684.14 689.44 694.74 700.04 705.34 710.64 715.94 721.24 726.54 731.84 737.14" y="704.45" font-size="8.84" transform="rotate(0.03 673.54 704.45)">1,879,766,345</text>
</g>
<g class="footer">
<text x="23.1 30.68 38.25 45.83 53.4 60.98 68.56 76.13 83.71 91.28 98.86 106.44 114.01 121.59 129.16 136.74" y="746.8" font-size="12.63" transform="rotate(0.03 23.1 746.8)">19-10-2018 10:02</text>
<text x="173.2 180.78 188.35 195.93 203.5 211.08 218.66 226.23 233.81 241.38 248.96 256.54 264.11 271.69 279.26 286.84 294.42 301.99 309.57 317.14 324.72 332.3 339.87 347.45 355.02" y="746.8" font-size="12.63" transform="rotate(0.03 173.2 746.8)">Processado por Computador</text>
<text x="486.5 491.86 497.22 502.58 507.94 513.3" y="744.8" font-size="8.84" transform="rotate(0.03 486.5 744.8)">Page 1</text>
</g>
</svg>
</div>
</body>
</html>
